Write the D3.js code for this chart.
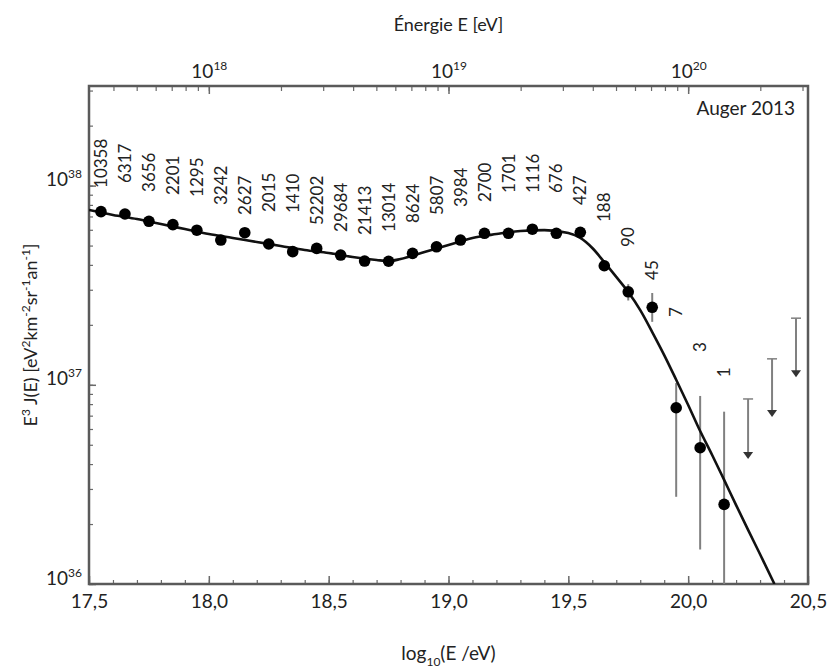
<!DOCTYPE html>
<html>
<head>
<meta charset="utf-8">
<script src="https://cdn.jsdelivr.net/npm/d3@7"></script>
<style>
  body { margin: 0; background: #fff; }
  svg text { font-family: Lato, "Open Sans", sans-serif; fill: #222; }
</style>
</head>
<body>
<svg id="container" width="838" height="672"></svg>
<script>
// Auger 2013 spectrum
const log_energy = [17.55, 17.65, 17.75, 17.85, 17.95, 18.05, 18.15, 18.25, 18.35, 18.45,
  18.55, 18.65, 18.75, 18.85, 18.95, 19.05, 19.15, 19.25, 19.35, 19.45,
  19.55, 19.65, 19.75, 19.85, 19.95, 20.05, 20.15];
const flux = [7.40e37, 7.20e37, 6.62e37, 6.37e37, 5.97e37, 5.33e37, 5.80e37, 5.09e37, 4.66e37, 4.84e37,
  4.48e37, 4.18e37, 4.17e37, 4.57e37, 4.93e37, 5.33e37, 5.76e37, 5.76e37, 6.04e37, 5.76e37,
  5.83e37, 3.96e37, 2.93e37, 2.45e37, 7.67e36, 4.83e36, 2.51e36];
const events = [10358, 6317, 3656, 2201, 1295, 3242, 2627, 2015, 1410, 52202,
  29684, 21413, 13014, 8624, 5807, 3984, 2700, 1701, 1116, 676,
  427, 188, 90, 45, 7, 3, 1];
const err_high = [null, null, null, null, null, null, null, null, null, null,
  null, null, null, null, null, null, null, null, null, null,
  null, null, 3.2e37, 2.89e37, 1.02e37, 8.79e36, 7.33e36];
const err_low = [null, null, null, null, null, null, null, null, null, null,
  null, null, null, null, null, null, null, null, null, null,
  null, null, 2.65e37, 2.07e37, 2.74e36, 1.49e36, 8e35];
// where each count label starts (flux units)
const label_at = [9.73e37, 1.03e38, 9.29e37, 8.97e37, 8.77e37, 7.99e37, 7.12e37, 7.37e37, 7.28e37, 6.34e37,
  5.85e37, 5.65e37, 5.85e37, 6.49e37, 7.12e37, 7.81e37, 8.27e37, 9.18e37, 9.18e37, 9.18e37,
  7.99e37, 6.56e37, 4.92e37, 3.36e37, 2.19e37, 1.46e37, 1.09e37];

const limit_energy = [20.25, 20.35, 20.45];
const limit_top = [8.49e36, 1.35e37, 2.16e37];
const limit_tip = [4.24e36, 6.89e36, 1.09e37];

const fit_energy = [17.5, 17.6, 17.7, 17.8, 17.9, 18.0, 18.1, 18.2, 18.3, 18.4,
  18.5, 18.6, 18.7, 18.75, 18.8, 18.9, 19.0, 19.1, 19.2, 19.3,
  19.4, 19.5, 19.55, 19.6, 19.65, 19.7, 19.75, 19.8, 19.85, 19.9,
  19.95, 20.0, 20.05, 20.1, 20.15, 20.2, 20.25, 20.3, 20.36];
const fit_flux = [7.54e37, 7.12e37, 6.80e37, 6.41e37, 6.05e37, 5.71e37, 5.46e37, 5.21e37, 4.98e37, 4.75e37,
  4.59e37, 4.38e37, 4.23e37, 4.18e37, 4.28e37, 4.64e37, 5.03e37, 5.46e37, 5.71e37, 5.92e37,
  5.98e37, 5.78e37, 5.46e37, 4.86e37, 4.13e37, 3.48e37, 2.92e37, 2.37e37, 1.84e37, 1.41e37,
  1.06e37, 7.92e36, 5.86e36, 4.44e36, 3.33e36, 2.49e36, 1.87e36, 1.41e36, 1.00e36];

const x_ticks = [17.5, 18, 18.5, 19, 19.5, 20, 20.5];
const energy_ticks = [1e18, 1e19, 1e20];
const flux_ticks = [1e36, 1e37, 1e38];

const MARGIN = { TOP: 86, RIGHT: 30, BOTTOM: 88, LEFT: 89 };
const width = 838 - MARGIN.LEFT - MARGIN.RIGHT;
const height = 672 - MARGIN.TOP - MARGIN.BOTTOM;

const svg = d3.select("#container");
const g = svg.append("g").attr("transform", `translate(${MARGIN.LEFT},${MARGIN.TOP})`);

const x = d3.scaleLinear().domain([17.5, 20.5]).range([0, width]);
const xTop = d3.scaleLog().domain([Math.pow(10, 17.5), Math.pow(10, 20.5)]).range([0, width]);
const y = d3.scaleLog().domain([1e36, Math.pow(10, 38.5)]).range([height, 0]);

const tickColor = "#6a6a6a";

// text with a superscript / subscript part
function richText(sel, parts, small, shift) {
  parts.forEach((p, i) => {
    const isSmall = i % 2 == 1;
    sel.append("tspan")
      .attr("font-size", isSmall ? small : null)
      .attr("dy", i == 0 ? 0 : (isSmall ? shift : -shift))
      .text(p);
  });
}

// bottom axis
g.append("g")
  .attr("transform", `translate(0,${height})`)
  .call(d3.axisBottom(x).tickValues(d3.range(175, 206).map(d => d / 10)).tickSize(-4).tickFormat(""))
  .call(s => s.select(".domain").remove())
  .call(s => s.selectAll("line").attr("stroke", tickColor).attr("stroke-width", 1.2));
g.append("g")
  .attr("transform", `translate(0,${height})`)
  .call(d3.axisBottom(x).tickValues(x_ticks).tickSize(-8).tickPadding(11)
    .tickFormat(d => d3.format(".1f")(d).replace(".", ",")))
  .call(s => s.select(".domain").remove())
  .call(s => s.selectAll("line").attr("stroke", tickColor).attr("stroke-width", 1.5))
  .call(s => s.selectAll("text").attr("font-size", 19).attr("fill", "#222")
    .attr("font-family", "Lato, 'Open Sans', sans-serif"));

// top axis, energy in eV
g.append("g")
  .call(d3.axisTop(xTop).tickValues(xTop.ticks()).tickSize(-5).tickFormat(""))
  .call(s => s.select(".domain").remove())
  .call(s => s.selectAll("line").attr("stroke", tickColor).attr("stroke-width", 1.2));
const topAxis = g.append("g")
  .call(d3.axisTop(xTop).tickValues(energy_ticks).tickSize(-8).tickFormat(""))
  .call(s => s.select(".domain").remove())
  .call(s => s.selectAll("line").attr("stroke", tickColor).attr("stroke-width", 1.5));
topAxis.selectAll(".tick")
  .append("text")
  .attr("y", -8)
  .attr("text-anchor", "middle")
  .attr("font-size", 19)
  .each(function (d) {
    richText(d3.select(this), ["10", String(Math.round(Math.log10(d)))], 12, -8);
  });

// left axis
g.append("g")
  .call(d3.axisLeft(y).tickValues(y.ticks()).tickSize(-4).tickFormat(""))
  .call(s => s.select(".domain").remove())
  .call(s => s.selectAll("line").attr("stroke", tickColor).attr("stroke-width", 1.2));
const leftAxis = g.append("g")
  .call(d3.axisLeft(y).tickValues(flux_ticks).tickSize(-7).tickFormat(""))
  .call(s => s.select(".domain").remove())
  .call(s => s.selectAll("line").attr("stroke", tickColor).attr("stroke-width", 1.5));
leftAxis.selectAll(".tick")
  .append("text")
  .attr("x", -7)
  .attr("dy", 7)
  .attr("text-anchor", "end")
  .attr("font-size", 19)
  .each(function (d) {
    richText(d3.select(this), ["10", String(Math.round(Math.log10(d)))], 12, -8);
  });

// frame
g.append("rect")
  .attr("width", width)
  .attr("height", height)
  .attr("fill", "none")
  .attr("stroke", "#5a5a5a")
  .attr("stroke-width", 2.5);

g.append("clipPath")
  .attr("id", "plot-clip")
  .append("rect")
  .attr("width", width)
  .attr("height", height);

const plot = g.append("g").attr("clip-path", "url(#plot-clip)");

const points = log_energy.map((e, i) => ({
  e: e, v: flux[i], n: events[i], hi: err_high[i], lo: err_low[i], lab: label_at[i]
}));

// error bars
plot.append("g")
  .selectAll("line")
  .data(points.filter(d => d.hi != null))
  .enter()
  .append("line")
  .attr("x1", d => x(d.e))
  .attr("x2", d => x(d.e))
  .attr("y1", d => y(d.hi))
  .attr("y2", d => y(d.lo))
  .attr("stroke", "#808080")
  .attr("stroke-width", 2);

// upper limits
const limits = limit_energy.map((e, i) => ({ e: e, top: limit_top[i], tip: limit_tip[i] }));
const limitG = plot.append("g")
  .selectAll("g")
  .data(limits)
  .enter()
  .append("g");
limitG.append("line")
  .attr("x1", d => x(d.e))
  .attr("x2", d => x(d.e))
  .attr("y1", d => y(d.top))
  .attr("y2", d => y(d.tip) - 5)
  .attr("stroke", "#808080")
  .attr("stroke-width", 2);
limitG.append("line")
  .attr("x1", d => x(d.e) - 5)
  .attr("x2", d => x(d.e) + 5)
  .attr("y1", d => y(d.top))
  .attr("y2", d => y(d.top))
  .attr("stroke", "#808080")
  .attr("stroke-width", 1.5);
limitG.append("path")
  .attr("d", d => {
    const cx = x(d.e), cy = y(d.tip);
    return `M${cx - 5},${cy - 7}L${cx + 5},${cy - 7}L${cx},${cy}Z`;
  })
  .attr("fill", "#333");

// fit
const fit = fit_energy.map((e, i) => [e, fit_flux[i]]);
plot.append("path")
  .datum(fit)
  .attr("fill", "none")
  .attr("stroke", "#111")
  .attr("stroke-width", 2.6)
  .attr("d", d3.line().x(d => x(d[0])).y(d => y(d[1])).curve(d3.curveMonotoneX));

// data points
plot.append("g")
  .selectAll("circle")
  .data(points)
  .enter()
  .append("circle")
  .attr("cx", d => x(d.e))
  .attr("cy", d => y(d.v))
  .attr("r", 5.8)
  .attr("fill", "#000");

// number of events above each point
g.append("g")
  .selectAll("text")
  .data(points)
  .enter()
  .append("text")
  .attr("transform", d => `translate(${x(d.e)},${y(d.lab)}) rotate(-90)`)
  .attr("dy", "0.36em")
  .attr("font-size", 17)
  .text(d => d.n);

g.append("text")
  .attr("x", width - 13)
  .attr("y", 29)
  .attr("text-anchor", "end")
  .attr("font-size", 19)
  .text("Auger 2013");

// axis titles
svg.append("text")
  .attr("x", MARGIN.LEFT + width / 2)
  .attr("y", 31)
  .attr("text-anchor", "middle")
  .attr("font-size", 18)
  .text("Énergie E [eV]");

const xTitle = svg.append("text")
  .attr("x", MARGIN.LEFT + width / 2)
  .attr("y", 660)
  .attr("text-anchor", "middle")
  .attr("font-size", 19);
richText(xTitle, ["log", "10", "(E /eV)"], 12, 6);

const yTitle = svg.append("text")
  .attr("transform", `translate(37,${MARGIN.TOP + height / 2}) rotate(-90)`)
  .attr("text-anchor", "middle")
  .attr("font-size", 18);
richText(yTitle, ["E", "3", " J(E) [eV", "2", "km", "-2", "sr", "-1", "an", "-1", "]"], 12, -7);
</script>
</body>
</html>
